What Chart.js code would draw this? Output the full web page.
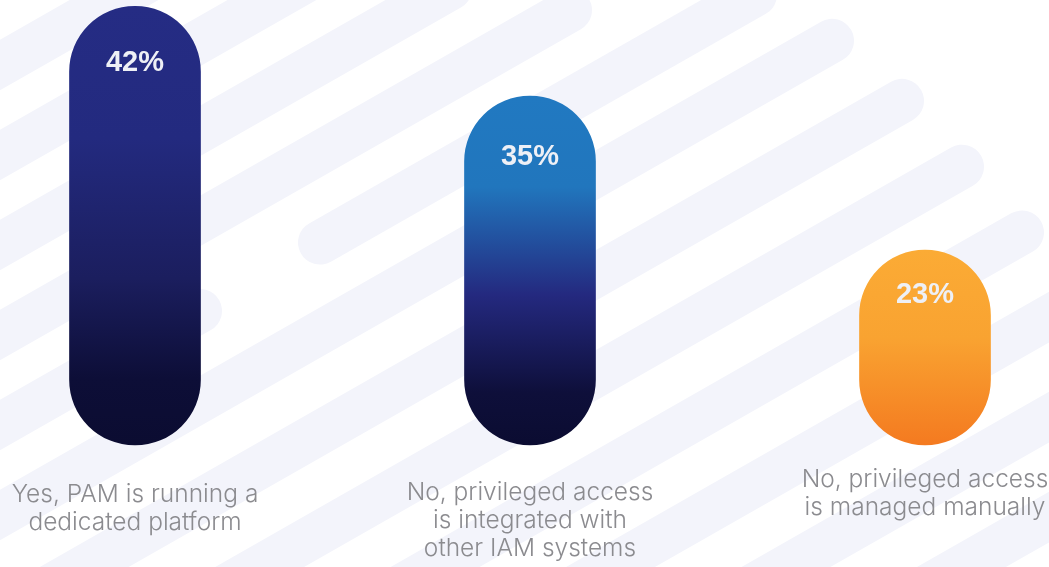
<!DOCTYPE html>
<html>
<head>
<meta charset="utf-8">
<script src="https://cdn.jsdelivr.net/npm/chart.js@4"></script>
<style>
  html, body { margin: 0; padding: 0; background: #fff; }
  #wrap { width: 1049px; height: 567px; position: relative; }
</style>
</head>
<body>
<div id="wrap"><canvas id="pamChart"></canvas></div>
<script>
// survey answers
const categories = [
  ['Yes, PAM is running a', 'dedicated platform'],
  ['No, privileged access', 'is integrated with', 'other IAM systems'],
  ['No, privileged access', 'is managed manually']
];
const shares = [42, 35, 23];

// value axis range (bars start at the bottom of the range)
const yMin = 7.8;
const yMax = 42.5;

// colour stops per bar, top (0) to bottom (1)
const barGradients = [
  [[0, '#252c84'], [0.3, '#232a7f'], [0.62, '#1b1e5e'], [0.85, '#0d0e37'], [1, '#0b0c31']],
  [[0, '#2179c1'], [0.26, '#2176bd'], [0.57, '#24297f'], [0.85, '#0e0f3a'], [1, '#0b0c31']],
  [[0, '#fbab35'], [0.45, '#f9a331'], [1, '#f47a20']]
];

// background stripes: [row, x start, x end]
const stripeRuns = [
  [-1, -60, 300], [0, -60, 400], [1, -60, 450], [2, -60, 570],
  [3, -60, 200], [3, 320, 755], [4, -60, 832], [5, -60, 902],
  [6, -60, 962], [7, -60, 1022], [8, -60, 1120], [9, -60, 1120],
  [10, -60, 1120], [11, -60, 1120], [12, -60, 1120], [13, -60, 1120]
];

function barFill(ctx) {
  const chart = ctx.chart;
  const stops = barGradients[ctx.dataIndex] || barGradients[0];
  const yScale = chart.scales.y;
  if (!chart.chartArea || !yScale) return stops[0][1];
  const top = yScale.getPixelForValue(shares[ctx.dataIndex]);
  const bottom = yScale.getPixelForValue(yMin);
  const g = chart.ctx.createLinearGradient(0, top, 0, bottom);
  stops.forEach(([p, c]) => g.addColorStop(p, c));
  return g;
}

const stripes = {
  id: 'stripes',
  beforeDraw(chart) {
    const { ctx, width, height } = chart;
    ctx.save();
    ctx.fillStyle = '#ffffff';
    ctx.fillRect(0, 0, width, height);
    ctx.strokeStyle = '#f3f4fb';
    ctx.lineWidth = 44;
    ctx.lineCap = 'round';
    stripeRuns.forEach(([k, x0, x1]) => {
      // later rows run a little flatter towards the right edge
      const c = 155 + 90 * k + (k >= 5 ? (k - 4) * 10 : 0);
      ctx.beginPath();
      ctx.moveTo(x0, c - 0.57 * x0);
      ctx.lineTo(x1, c - 0.57 * x1);
      ctx.stroke();
    });
    ctx.restore();
  }
};

const valueText = {
  id: 'valueText',
  afterDatasetsDraw(chart, args, opts) {
    const { ctx } = chart;
    const meta = chart.getDatasetMeta(0);
    ctx.save();
    ctx.fillStyle = '#eef0f6';
    ctx.font = 'bold 29px "Liberation Sans", Arial, sans-serif';
    ctx.textAlign = 'center';
    ctx.textBaseline = 'alphabetic';
    meta.data.forEach((bar, i) => {
      ctx.fillText(shares[i] + '%', bar.x, bar.y + opts.offsets[i]);
    });
    ctx.restore();
  }
};

const categoryText = {
  id: 'categoryText',
  afterDraw(chart, args, opts) {
    const { ctx, chartArea } = chart;
    const meta = chart.getDatasetMeta(0);
    ctx.save();
    ctx.fillStyle = '#8b8b8f';
    ctx.font = '300 24.5px Inter, "Noto Sans", sans-serif';
    ctx.textAlign = 'center';
    ctx.textBaseline = 'alphabetic';
    meta.data.forEach((bar, i) => {
      categories[i].forEach((line, j) => {
        ctx.fillText(line, bar.x, chartArea.bottom + opts.offsets[i] + j * opts.lineHeight);
      });
    });
    ctx.restore();
  }
};

new Chart(document.getElementById('pamChart'), {
  type: 'bar',
  data: {
    labels: categories,
    datasets: [{
      data: shares,
      base: yMin,
      backgroundColor: barFill,
      borderWidth: 0,
      borderRadius: 66,
      borderSkipped: false,
      barThickness: 131,
      clip: false
    }]
  },
  options: {
    responsive: true,
    maintainAspectRatio: false,
    animation: false,
    layout: { padding: { left: 135, right: 124, top: 0, bottom: 122 } },
    plugins: {
      legend: { display: false },
      tooltip: { enabled: false },
      valueText: { offsets: [65, 69, 53] },
      categoryText: { offsets: [57, 55, 42], lineHeight: 28 }
    },
    scales: {
      x: { display: false, offset: false },
      y: { display: false, min: yMin, max: yMax }
    }
  },
  plugins: [stripes, valueText, categoryText]
});
</script>
</body>
</html>
